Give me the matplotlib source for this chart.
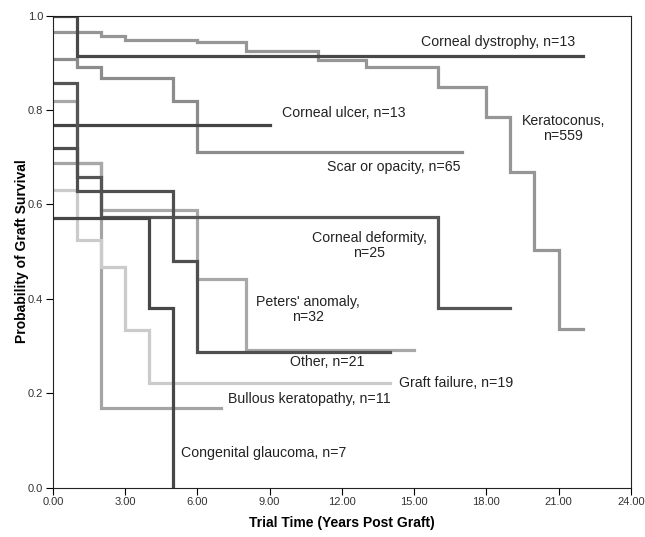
import matplotlib
matplotlib.use("Agg")
import matplotlib.pyplot as plt

plt.rcParams["font.family"] = ["Liberation Sans", "DejaVu Sans"]

# Kaplan-Meier curves: change times, survival, last time
dystrophy_t = [0, 1]
dystrophy_s = [1.0, 0.915]
dystrophy_end = 22

kerato_t = [0, 2, 3, 6, 8, 11, 13, 16, 18, 19, 20, 21]
kerato_s = [0.966, 0.956, 0.948, 0.943, 0.925, 0.905, 0.89, 0.848, 0.785, 0.669, 0.504, 0.336]
kerato_end = 22

scar_t = [0, 1, 2, 5, 6]
scar_s = [0.907, 0.892, 0.868, 0.819, 0.71]
scar_end = 17

ulcer_t = [0]
ulcer_s = [0.768]
ulcer_end = 9

deform_t = [0, 1, 2, 16]
deform_s = [0.857, 0.659, 0.574, 0.381]
deform_end = 19

peters_t = [0, 1, 2, 6, 8]
peters_s = [0.818, 0.687, 0.588, 0.442, 0.292]
peters_end = 15

other_t = [0, 1, 5, 6]
other_s = [0.72, 0.629, 0.48, 0.288]
other_end = 14

graft_t = [0, 1, 2, 3, 4]
graft_s = [0.631, 0.524, 0.468, 0.333, 0.221]
graft_end = 14

bullous_t = [0, 2]
bullous_s = [0.687, 0.168]
bullous_end = 7

glaucoma_t = [0, 4, 5]
glaucoma_s = [0.571, 0.381, 0.0]
glaucoma_end = 5

curves = [
    (bullous_t, bullous_s, bullous_end, "#a4a4a4"),
    (graft_t, graft_s, graft_end, "#cbcbcb"),
    (peters_t, peters_s, peters_end, "#a8a8a8"),
    (kerato_t, kerato_s, kerato_end, "#969696"),
    (scar_t, scar_s, scar_end, "#8c8c8c"),
    (dystrophy_t, dystrophy_s, dystrophy_end, "#484848"),
    (ulcer_t, ulcer_s, ulcer_end, "#444444"),
    (deform_t, deform_s, deform_end, "#555555"),
    (other_t, other_s, other_end, "#4f4f4f"),
    (glaucoma_t, glaucoma_s, glaucoma_end, "#474747"),
]

labels = [
    ("Corneal dystrophy, n=13", 15.3, 0.944, "left"),
    ("Corneal ulcer, n=13", 9.5, 0.793, "left"),
    ("Keratoconus,\nn=559", 21.2, 0.76, "center"),
    ("Scar or opacity, n=65", 11.4, 0.68, "left"),
    ("Corneal deformity,\nn=25", 13.13, 0.513, "center"),
    ("Peters' anomaly,\nn=32", 10.6, 0.377, "center"),
    ("Other, n=21", 11.4, 0.266, "center"),
    ("Graft failure, n=19", 16.74, 0.221, "center"),
    ("Bullous keratopathy, n=11", 10.66, 0.187, "center"),
    ("Congenital glaucoma, n=7", 8.75, 0.073, "center"),
]

fig = plt.figure(figsize=(6.45, 5.37), dpi=100)
ax = fig.add_axes([0.082, 0.092, 0.896, 0.879])

for t, s, end, col in curves:
    x = list(t) + [end]
    y = list(s) + [s[-1]]
    ax.step(x, y, where="post", color=col, lw=2.3, solid_joinstyle="miter")

for txt, x, y, ha in labels:
    ax.text(x, y, txt, ha=ha, va="center", fontsize=10.2, color="#222222",
            linespacing=1.1)

ax.set_xlim(0, 24)
ax.set_ylim(0, 1)
ax.set_xticks(range(0, 25, 3))
ax.set_xticklabels(["%.2f" % v for v in range(0, 25, 3)])
ax.set_yticks([0, 0.2, 0.4, 0.6, 0.8, 1.0])
ax.set_yticklabels(["%.1f" % v for v in [0, 0.2, 0.4, 0.6, 0.8, 1.0]])
ax.tick_params(labelsize=8, labelcolor="#333333", length=5, width=0.8, pad=2)
for sp in ax.spines.values():
    sp.set_linewidth(0.8)
    sp.set_color("#222222")

ax.set_xlabel("Trial Time (Years Post Graft)", fontsize=10, fontweight="bold", labelpad=6)
ax.set_ylabel("Probability of Graft Survival", fontsize=10, fontweight="bold", labelpad=-1)

fig.savefig("out.png", dpi=100)
